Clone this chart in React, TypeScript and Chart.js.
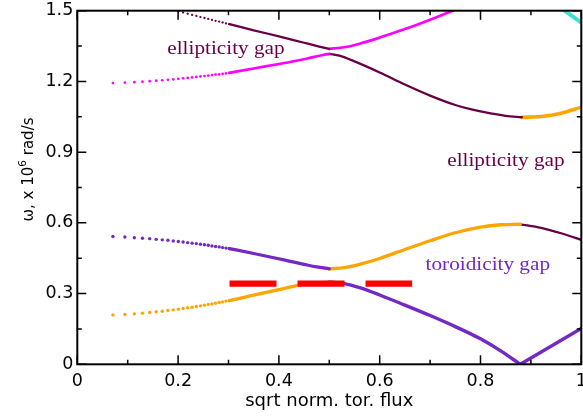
import React, { useEffect, useRef } from "react";
import { Chart, registerables } from "chart.js";

Chart.register(...registerables);

// ---------- colours ----------
const MAROON = "#680046";
const MAGENTA = "#ff00ff";
const PURPLE = "#7428c4";
const ORANGE = "#ffa500";
const CYAN = "#40e0d0";
const RED = "#ff0000";

// ---------- axes ----------
const xTickValues = [0, 0.2, 0.4, 0.6, 0.8, 1];
const xTickLabels = ["0", "0.2", "0.4", "0.6", "0.8", "1"];
const xMinorTicks = [0.1, 0.3, 0.5, 0.7, 0.9];
const yTickValues = [0, 0.3, 0.6, 0.9, 1.2, 1.5];
const yTickLabels = ["0", "0.3", "0.6", "0.9", "1.2", "1.5"];
const yMinorTicks = [0.15, 0.45, 0.75, 1.05, 1.35];
const xTitle = "sqrt norm. tor. flux";
const yTitleMain = "\u03c9, x 10";
const yTitleSup = "6";
const yTitleEnd = " rad/s";

// ---------- coarse radial grid (dotted part of the curves) ----------
const gridX = [0.0707, 0.0944, 0.1132, 0.1293, 0.1436, 0.1566, 0.1686, 0.1798, 0.1904, 0.2004, 0.2099, 0.219, 0.2278, 0.2362, 0.2443, 0.2522, 0.2598, 0.2672, 0.2744, 0.2815, 0.2883, 0.295, 0.3016];
const magentaDotsY = [1.193, 1.195, 1.197, 1.199, 1.201, 1.203, 1.205, 1.207, 1.209, 1.211, 1.213, 1.215, 1.217, 1.219, 1.221, 1.223, 1.225, 1.227, 1.229, 1.23, 1.232, 1.234, 1.236];
const maroonDotsX = [0.2004, 0.2099, 0.219, 0.2278, 0.2362, 0.2443, 0.2522, 0.2598, 0.2672, 0.2744, 0.2815, 0.2883, 0.295, 0.3016];
const maroonDotsY = [1.497, 1.492, 1.487, 1.482, 1.478, 1.473, 1.469, 1.465, 1.461, 1.457, 1.454, 1.45, 1.446, 1.443];
const purpleDotsY = [0.542, 0.54, 0.537, 0.535, 0.533, 0.53, 0.528, 0.526, 0.523, 0.521, 0.519, 0.516, 0.514, 0.512, 0.509, 0.507, 0.505, 0.502, 0.5, 0.498, 0.495, 0.493, 0.491];
const orangeDotsY = [0.209, 0.211, 0.214, 0.217, 0.22, 0.223, 0.225, 0.228, 0.231, 0.234, 0.237, 0.24, 0.242, 0.245, 0.248, 0.251, 0.254, 0.256, 0.259, 0.262, 0.265, 0.268, 0.27];

// ---------- continuous parts ----------
// ellipticity gap branches
const magentaLowX = [0.3016, 0.35, 0.4, 0.44, 0.47, 0.49, 0.5];
const magentaLowY = [1.236, 1.255, 1.274, 1.29, 1.304, 1.313, 1.317];
const maroonDownX = [0.5, 0.52, 0.55, 0.6, 0.65, 0.7, 0.75, 0.78, 0.82, 0.85, 0.882];
const maroonDownY = [1.317, 1.309, 1.285, 1.238, 1.187, 1.14, 1.1, 1.082, 1.064, 1.054, 1.048];
const orangeUpX = [0.882, 0.92, 0.96, 1.0];
const orangeUpY = [1.048, 1.051, 1.065, 1.091];
const maroonHighX = [0.3016, 0.35, 0.4, 0.45, 0.48, 0.5];
const maroonHighY = [1.443, 1.417, 1.391, 1.364, 1.348, 1.338];
const magentaUpX = [0.5, 0.53, 0.56, 0.6, 0.65, 0.7, 0.75, 0.8];
const magentaUpY = [1.338, 1.345, 1.36, 1.386, 1.422, 1.462, 1.505, 1.548];
const cyanX = [0.95, 1.0];
const cyanY = [1.526, 1.449];
// toroidicity gap branches
const purpleHighX = [0.3016, 0.35, 0.39, 0.42, 0.45, 0.475, 0.5];
const purpleHighY = [0.491, 0.47, 0.452, 0.438, 0.424, 0.413, 0.405];
const orangeMidX = [0.5, 0.53, 0.56, 0.6, 0.65, 0.7, 0.75, 0.8, 0.84, 0.879];
const orangeMidY = [0.405, 0.41, 0.424, 0.449, 0.487, 0.524, 0.558, 0.582, 0.592, 0.594];
const maroonLowX = [0.879, 0.92, 0.96, 1.0];
const maroonLowY = [0.594, 0.579, 0.556, 0.528];
const orangeLowX = [0.3016, 0.35, 0.4, 0.44, 0.47, 0.5];
const orangeLowY = [0.27, 0.293, 0.317, 0.336, 0.345, 0.349];
const purpleDownX = [0.5, 0.53, 0.56, 0.6, 0.65, 0.7, 0.75, 0.8, 0.84, 0.879];
const purpleDownY = [0.349, 0.342, 0.325, 0.294, 0.251, 0.207, 0.16, 0.108, 0.057, 0];
const purpleUpX = [0.879, 1.0];
const purpleUpY = [0, 0.152];
// continuum marker (red dashes)
const redX = [0.302, 0.6644];
const redY = [0.342, 0.342];

// ---------- annotations ----------
const gapLabels = ["ellipticity gap", "ellipticity gap", "toroidicity gap"];
const gapLabelX = [0.1785, 0.734, 0.691];
const gapLabelY = [1.316, 0.843, 0.398];
const gapLabelColors = [MAROON, MAROON, PURPLE];

const pts = (xs: number[], ys: number[]) => xs.map((x, i) => ({ x, y: ys[i] }));

const dots = (xs: number[], ys: number[], color: string, r: number) => ({
  data: pts(xs, ys),
  showLine: false,
  pointRadius: r,
  pointHoverRadius: r,
  pointBackgroundColor: color,
  pointBorderWidth: 0,
  borderColor: color,
  clip: 0,
  order: 2,
});

const curve = (xs: number[], ys: number[], color: string, w: number, extra: any = {}) => ({
  data: pts(xs, ys),
  showLine: true,
  borderColor: color,
  backgroundColor: color,
  borderWidth: w,
  pointRadius: 0,
  pointHoverRadius: 0,
  cubicInterpolationMode: "monotone",
  fill: false,
  clip: 0,
  borderCapStyle: "round",
  borderJoinStyle: "round",
  order: 2,
  ...extra,
});

const framePlugin = {
  id: "frame",
  afterDatasetsDraw(chart: any) {
    const { ctx, chartArea: a } = chart;
    const xs = chart.scales.x;
    const ys = chart.scales.y;
    ctx.save();
    ctx.strokeStyle = "#000";
    ctx.lineWidth = 1.5;
    ctx.beginPath();
    const xt = (vals: number[], len: number) => {
      for (const v of vals) {
        const p = xs.getPixelForValue(v);
        ctx.moveTo(p, a.bottom);
        ctx.lineTo(p, a.bottom - len);
        ctx.moveTo(p, a.top);
        ctx.lineTo(p, a.top + len);
      }
    };
    const yt = (vals: number[], len: number) => {
      for (const v of vals) {
        const p = ys.getPixelForValue(v);
        ctx.moveTo(a.left, p);
        ctx.lineTo(a.left + len, p);
        ctx.moveTo(a.right, p);
        ctx.lineTo(a.right - len, p);
      }
    };
    xt(xTickValues, 9);
    xt(xMinorTicks, 4.5);
    yt(yTickValues, 9);
    yt(yMinorTicks, 4.5);
    ctx.stroke();
    ctx.lineWidth = 2;
    ctx.strokeRect(a.left, a.top, a.right - a.left, a.bottom - a.top);
    ctx.restore();
  },
};

const textPlugin = {
  id: "texts",
  afterDraw(chart: any) {
    const { ctx, chartArea: a } = chart;
    const xs = chart.scales.x;
    const ys = chart.scales.y;
    ctx.save();
    ctx.textBaseline = "alphabetic";
    ctx.textAlign = "left";
    ctx.font = "18px 'Liberation Serif'";
    gapLabels.forEach((t, i) => {
      const px = xs.getPixelForValue(gapLabelX[i]);
      const py = ys.getPixelForValue(gapLabelY[i]);
      ctx.save();
      ctx.translate(px, py);
      ctx.scale(1.18, 1);
      ctx.fillStyle = gapLabelColors[i];
      ctx.fillText(t, 0, 0);
      ctx.restore();
    });
    // x title
    ctx.fillStyle = "#000";
    ctx.font = "18px 'DejaVu Sans'";
    ctx.textAlign = "center";
    ctx.fillText(xTitle, (a.left + a.right) / 2, 406);
    // y title with superscript
    ctx.save();
    ctx.translate(33.3, (a.top + a.bottom) / 2 - 18);
    ctx.rotate(-Math.PI / 2);
    ctx.textAlign = "left";
    const mainFont = "15px 'DejaVu Sans'";
    const supFont = "10.5px 'DejaVu Sans'";
    ctx.font = mainFont;
    const w1 = ctx.measureText(yTitleMain).width;
    const w3 = ctx.measureText(yTitleEnd).width;
    ctx.font = supFont;
    const w2 = ctx.measureText(yTitleSup).width;
    let x0 = -(w1 + w2 + w3) / 2;
    ctx.font = mainFont;
    ctx.fillText(yTitleMain, x0, 0);
    x0 += w1;
    ctx.font = supFont;
    ctx.fillText(yTitleSup, x0, -7);
    x0 += w2;
    ctx.font = mainFont;
    ctx.fillText(yTitleEnd, x0, 0);
    ctx.restore();
    ctx.restore();
  },
};

export default function App() {
  const ref = useRef<HTMLCanvasElement>(null);
  useEffect(() => {
    const datasets: any[] = [
      curve(redX, redY, RED, 6.3, { borderDash: [47, 21], borderCapStyle: "butt", order: 0, cubicInterpolationMode: "default", tension: 0 }),
      // ellipticity gap
      dots(gridX, magentaDotsY, MAGENTA, 1.35),
      curve(magentaLowX, magentaLowY, MAGENTA, 2.7),
      curve(maroonDownX, maroonDownY, MAROON, 2.3),
      curve(orangeUpX, orangeUpY, ORANGE, 3.6),
      dots(maroonDotsX, maroonDotsY, MAROON, 1.15),
      curve(maroonHighX, maroonHighY, MAROON, 2.3),
      curve(magentaUpX, magentaUpY, MAGENTA, 2.7),
      curve(cyanX, cyanY, CYAN, 4),
      // toroidicity gap
      dots(gridX, purpleDotsY, PURPLE, 1.7),
      curve(purpleHighX, purpleHighY, PURPLE, 3.3),
      curve(orangeMidX, orangeMidY, ORANGE, 3.3),
      curve(maroonLowX, maroonLowY, MAROON, 2.3),
      dots(gridX, orangeDotsY, ORANGE, 1.7),
      curve(orangeLowX, orangeLowY, ORANGE, 3.3),
      curve(purpleDownX, purpleDownY, PURPLE, 3.4),
      curve(purpleUpX, purpleUpY, PURPLE, 3.4, { cubicInterpolationMode: "default", tension: 0 }),
    ];
    const tickFont = { family: "'DejaVu Sans'", size: 17.5 };
    const chart = new Chart(ref.current as HTMLCanvasElement, {
      type: "scatter",
      data: { datasets },
      options: {
        animation: false,
        responsive: false,
        devicePixelRatio: 1,
        events: [],
        layout: { padding: { left: 0, top: 10.7, right: 1.5, bottom: 0 } },
        plugins: { legend: { display: false }, tooltip: { enabled: false } },
        scales: {
          x: {
            type: "linear",
            min: 0,
            max: 1,
            grid: { display: false, drawTicks: false },
            border: { display: false },
            afterBuildTicks: (s: any) => {
              s.ticks = xTickValues.map((v) => ({ value: v }));
            },
            afterFit: (s: any) => {
              s.height = 54.7;
              s.paddingLeft = 0;
              s.paddingRight = 0;
            },
            ticks: {
              autoSkip: false,
              maxRotation: 0,
              padding: 7,
              color: "#000",
              font: tickFont,
              callback: (v: any) => xTickLabels[xTickValues.indexOf(Number(v))] ?? "",
            },
          },
          y: {
            type: "linear",
            min: 0,
            max: 1.5,
            grid: { display: false, drawTicks: false },
            border: { display: false },
            afterBuildTicks: (s: any) => {
              s.ticks = yTickValues.map((v) => ({ value: v }));
            },
            afterFit: (s: any) => {
              s.width = 77.3;
              s.paddingTop = 0;
              s.paddingBottom = 0;
            },
            ticks: {
              autoSkip: false,
              padding: 4,
              color: "#000",
              font: tickFont,
              callback: (v: any) => yTickLabels[yTickValues.indexOf(Number(v))] ?? "",
            },
          },
        },
      } as any,
      plugins: [framePlugin, textPlugin],
    } as any);
    return () => chart.destroy();
  }, []);
  return (
    <div style={{ position: "fixed", left: 0, top: 0, width: 583, height: 419, background: "#fff" }}>
      <canvas ref={ref} width={583} height={419} style={{ display: "block", width: 583, height: 419 }} />
    </div>
  );
}
